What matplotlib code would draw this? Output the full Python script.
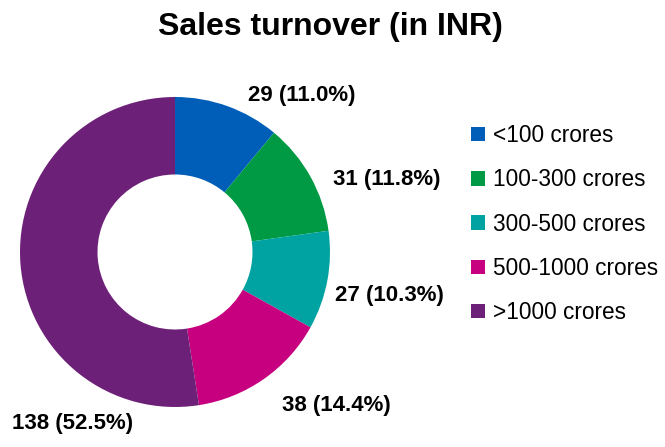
import matplotlib
matplotlib.use("Agg")
import matplotlib.pyplot as plt
from matplotlib.patches import Patch

categories = ["<100 crores", "100-300 crores", "300-500 crores", "500-1000 crores", ">1000 crores"]
counts = [29, 31, 27, 38, 138]
shares = [11.0, 11.8, 10.3, 14.4, 52.5]
colors = ["#005EB8", "#009A44", "#00A3A1", "#C6007E", "#6D2077"]

plt.rcParams["font.family"] = ["Liberation Sans", "DejaVu Sans"]

W, H = 665, 447
fig = plt.figure(figsize=(W / 100, H / 100), dpi=100)

# donut: centre (175, 252) px, radius 155 px
cx, cy, r = 175, 252, 155
ax = fig.add_axes([(cx - r) / W, (H - cy - r) / H, 2 * r / W, 2 * r / H])
ax.pie(counts, colors=colors, startangle=90, counterclock=False,
       wedgeprops=dict(width=0.5, linewidth=0))
ax.set_xlim(-1, 1)
ax.set_ylim(-1, 1)
ax.axis("off")

fig.text(330 / W, 1 - 27 / H, "Sales turnover (in INR)", ha="center", va="center",
         fontsize=23, fontweight="bold")

# label positions (left edge x, centre y) in pixels
label_pos = [(248, 95), (333, 179), (335, 296), (282, 405), (12, 424)]
for (x, y), n, s in zip(label_pos, counts, shares):
    fig.text(x / W, 1 - y / H, f"{n} ({s:.1f}%)", ha="left", va="center",
             fontsize=16, fontweight="bold")

handles = [Patch(facecolor=c, edgecolor="none") for c in colors]
fig.legend(handles, categories, loc="upper left",
           bbox_to_anchor=(462 / W, 1 - 115 / H), frameon=False,
           fontsize=16.3, handlelength=0.6, handleheight=0.6,
           handletextpad=0.35, labelspacing=0.94, borderaxespad=0)

fig.savefig("out.png", dpi=100)
